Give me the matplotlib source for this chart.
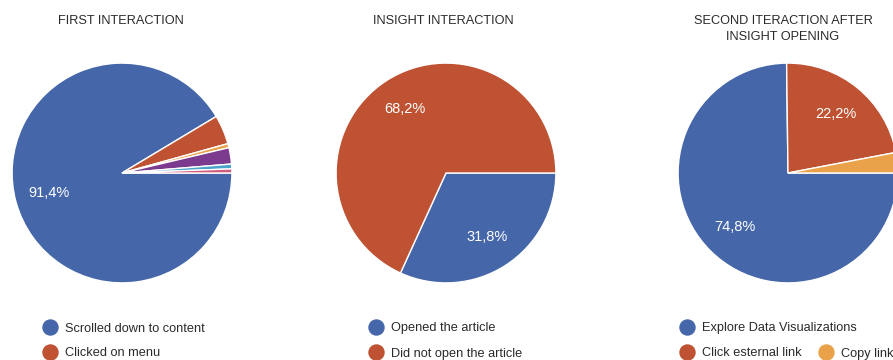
import matplotlib
matplotlib.use("Agg")
import matplotlib.pyplot as plt
from matplotlib.lines import Line2D

plt.rcParams['font.family'] = ['Liberation Sans', 'DejaVu Sans']

W, H = 893, 360

# --- data -------------------------------------------------------------
first_labels = ['Scrolled down to content', 'Clicked on menu', 'Other 1', 'Other 2', 'Other 3', 'Other 4']
first_values = [91.4, 4.3, 0.6, 2.4, 0.7, 0.6]
first_colors = ['#4567AA', '#BE5232', '#E9A24A', '#7C3A8E', '#4AA3C9', '#CF5C7B']

insight_labels = ['Opened the article', 'Did not open the article']
insight_values = [31.8, 68.2]
insight_colors = ['#4567AA', '#BE5232']

second_labels = ['Explore Data Visualizations', 'Click esternal link', 'Copy link']
second_values = [74.8, 22.2, 3.0]
second_colors = ['#4567AA', '#BE5232', '#E9A24A']

titles = ['FIRST INTERACTION', 'INSIGHT INTERACTION', 'SECOND ITERACTION AFTER\nINSIGHT OPENING']

fig = plt.figure(figsize=(W / 100, H / 100), dpi=100)


def fx(x):
    return x / W


def fy(y):
    return 1 - y / H


def pct_label(p):
    if p < 5:
        return ''
    return f'{p:.1f}'.replace('.', ',') + '%'


def draw_pie(cx, cy, r, values, colors):
    ax = fig.add_axes([fx(cx - r), fy(cy + r), 2 * r / W, 2 * r / H])
    wedges, _, autotexts = ax.pie(
        values, colors=colors, startangle=0, counterclock=False,
        autopct=pct_label, pctdistance=0.69, radius=1,
        wedgeprops=dict(edgecolor='white', linewidth=1.0))
    for t in autotexts:
        t.set_color('white')
        t.set_fontsize(10.5)
    ax.set_xlim(-1.01, 1.01)
    ax.set_ylim(-1.01, 1.01)
    ax.axis('off')
    return ax


def legend_item(x, y, label, color):
    fig.add_artist(Line2D([fx(x)], [fy(y)], marker='o', markersize=10.8,
                          color=color, linestyle='none', transform=fig.transFigure))
    # baseline sits ~4.5 px below the visual centre of the caps
    fig.text(fx(x + 15), fy(y + 4.5), label, fontsize=9.2, color='#2a2a2a',
             ha='left', va='baseline')


def title(x, y, text, step=16):
    for i, line in enumerate(text.split('\n')):
        fig.text(fx(x), fy(y + 4.5 + i * step), line, fontsize=9.2,
                 color='#2a2a2a', ha='center', va='baseline')


R = 111
draw_pie(122, 173, R, first_values, first_colors)
draw_pie(446, 173, R, insight_values, insight_colors)
draw_pie(788, 173, R, second_values, second_colors)

title(121, 20, titles[0])
title(443, 20, titles[1])
title(783, 20, titles[2])

# legends
legend_item(50, 327, first_labels[0], first_colors[0])
legend_item(50, 352, first_labels[1], first_colors[1])

legend_item(376, 327, insight_labels[0], insight_colors[0])
legend_item(376, 352, insight_labels[1], insight_colors[1])

legend_item(687, 327, second_labels[0], second_colors[0])
legend_item(687, 352, second_labels[1], second_colors[1])
legend_item(826, 352, second_labels[2], second_colors[2])

fig.savefig('out.png', dpi=100)
